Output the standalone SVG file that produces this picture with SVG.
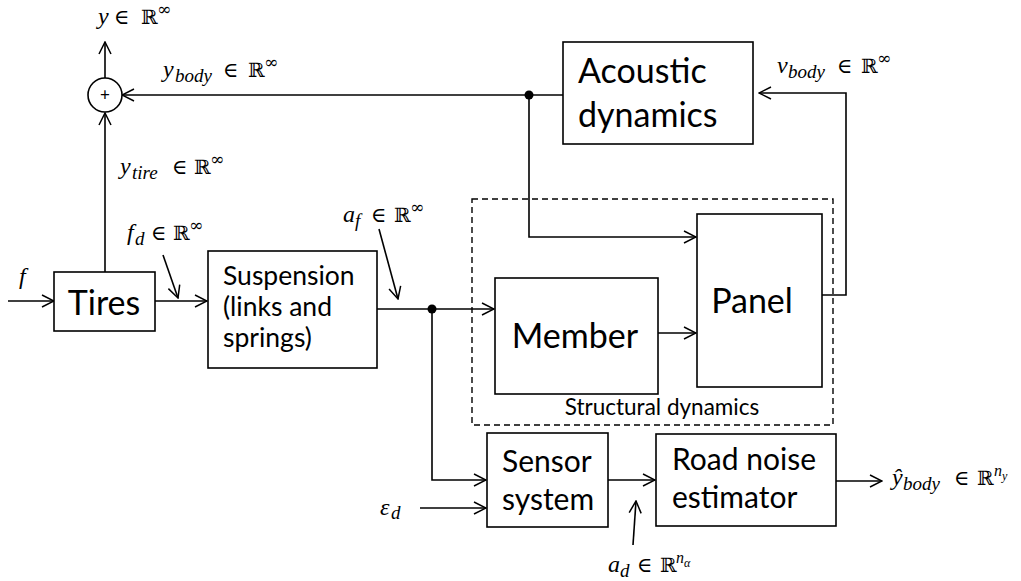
<svg xmlns="http://www.w3.org/2000/svg" width="1021" height="581" viewBox="0 0 1021 581">
<style>
.box{fill:#fff;stroke:#000;stroke-width:1.6}
.ln{fill:none;stroke:#000;stroke-width:1.6}
.ar{marker-end:url(#ah)}
.dash{fill:none;stroke:#000;stroke-width:1.4;stroke-dasharray:6 4}
.t{font-family:Lato,"Open Sans","Liberation Sans",sans-serif;fill:#000}
.t36{font-size:34px}
.t32{font-size:30px}
.t28{font-size:26.5px}
.t24{font-size:22.5px}
.m{font-family:"Liberation Serif","DejaVu Serif",serif;font-size:24px;fill:#000}
.i{font-style:italic}
.s{font-size:19px;font-style:italic}
.E{font-family:"DejaVu Serif",serif;font-size:21px}
.R{font-family:"DejaVu Serif",serif;font-size:20px}
.sup{font-family:"DejaVu Serif",serif;font-size:17px}
</style>
<defs>
<marker id="ah" viewBox="0 0 14 14" refX="13" refY="7" markerWidth="14" markerHeight="14" markerUnits="userSpaceOnUse" orient="auto">
<path d="M1,1 L13,7 L1,13" fill="none" stroke="#000" stroke-width="1.5"/>
</marker>
</defs>
<rect width="1021" height="581" fill="#fff"/>

<g id="connectors">
<line class="ln ar" x1="8" y1="301" x2="54" y2="301"/>
<line class="ln ar" x1="155" y1="301" x2="207" y2="301"/>
<line class="ln ar" x1="105" y1="272" x2="105" y2="113"/>
<line class="ln ar" x1="105" y1="78" x2="105" y2="42"/>
<line class="ln ar" x1="563" y1="95" x2="122" y2="95"/>
<polyline class="ln ar" points="529,95 529,237 696,237"/>
<line class="ln ar" x1="658" y1="333" x2="696" y2="333"/>
<polyline class="ln ar" points="822,295 846,295 846,93 759,93"/>
<line class="ln ar" x1="377" y1="309" x2="494" y2="309"/>
<polyline class="ln ar" points="432,309 432,480 486,480"/>
<line class="ln ar" x1="420" y1="508" x2="486" y2="508"/>
<line class="ln ar" x1="608" y1="480" x2="655" y2="480"/>
<line class="ln ar" x1="836" y1="481" x2="882" y2="481"/>
<line class="ln ar" x1="163" y1="255" x2="178" y2="298"/>
<line class="ln ar" x1="379" y1="229" x2="398" y2="299"/>
<line class="ln ar" x1="633" y1="545" x2="636" y2="501"/>
<circle cx="529" cy="95" r="4.5" fill="#000"/>
<circle cx="432" cy="309" r="4.5" fill="#000"/>
</g>

<g id="structural-dynamics">
<rect class="dash" x="472" y="199" width="361" height="226"/>
<text class="t t24" x="662" y="415" text-anchor="middle">Structural dynamics</text>
</g>

<g id="sum">
<circle cx="105" cy="95" r="17" fill="#fff" stroke="#000" stroke-width="1.6"/>
<text class="t" x="105" y="101" font-size="17" text-anchor="middle">+</text>
</g>

<g id="tires">
<rect class="box" x="54" y="272" width="101" height="59"/>
<text class="t t36" x="104" y="315" text-anchor="middle">Tires</text>
</g>

<g id="suspension">
<rect class="box" x="208" y="251" width="169" height="117"/>
<text class="t t28" x="223" y="285">Suspension</text>
<text class="t t28" x="223" y="316">(links and</text>
<text class="t t28" x="223" y="347">springs)</text>
</g>

<g id="acoustic">
<rect class="box" x="563" y="42" width="190" height="102"/>
<text class="t t36" x="578" y="83">Acoustic</text>
<text class="t t36" x="578" y="127">dynamics</text>
</g>

<g id="member">
<rect class="box" x="495" y="278" width="163" height="116"/>
<text class="t t36" x="575" y="348" text-anchor="middle">Member</text>
</g>

<g id="panel">
<rect class="box" x="697" y="214" width="125" height="173"/>
<text class="t t36" x="752" y="313" text-anchor="middle">Panel</text>
</g>

<g id="sensor">
<rect class="box" x="487" y="433" width="121" height="94"/>
<text class="t t32" x="502" y="472">Sensor</text>
<text class="t t32" x="502" y="510">system</text>
</g>

<g id="estimator">
<rect class="box" x="656" y="434" width="180" height="92"/>
<text class="t t32" x="672" y="470">Road noise</text>
<text class="t t32" x="672" y="508">estimator</text>
</g>

<g id="labels">
<text class="m" y="24"><tspan class="i" x="98">y</tspan><tspan class="E" x="114">∈</tspan><tspan class="R" x="141">ℝ</tspan><tspan class="sup" x="157" dy="-9">∞</tspan></text>
<text class="m" y="77"><tspan class="i" x="163">y</tspan><tspan class="s" x="175" dy="5">body</tspan><tspan class="E" x="223" dy="-5">∈</tspan><tspan class="R" x="248">ℝ</tspan><tspan class="sup" x="264" dy="-9">∞</tspan></text>
<text class="m" y="174"><tspan class="i" x="120">y</tspan><tspan class="s" x="132" dy="5">tire</tspan><tspan class="E" x="172" dy="-5">∈</tspan><tspan class="R" x="194">ℝ</tspan><tspan class="sup" x="210" dy="-9">∞</tspan></text>
<text class="m" y="240"><tspan class="i" x="127">f</tspan><tspan class="s" x="135" dy="5">d</tspan><tspan class="E" x="151" dy="-5">∈</tspan><tspan class="R" x="173">ℝ</tspan><tspan class="sup" x="189" dy="-9">∞</tspan></text>
<text class="m i" x="19" y="284">f</text>
<text class="m" y="222"><tspan class="i" x="343">a</tspan><tspan class="s" x="355" dy="5">f</tspan><tspan class="E" x="371" dy="-5">∈</tspan><tspan class="R" x="394">ℝ</tspan><tspan class="sup" x="410" dy="-9">∞</tspan></text>
<text class="m" y="73"><tspan class="i" x="777">v</tspan><tspan class="s" x="788" dy="5">body</tspan><tspan class="E" x="837" dy="-5">∈</tspan><tspan class="R" x="861">ℝ</tspan><tspan class="sup" x="877" dy="-9">∞</tspan></text>
<text class="m" y="515"><tspan class="i" x="380">ε</tspan><tspan class="s" x="391" dy="4">d</tspan></text>
<text class="m" y="572"><tspan class="i" x="608">a</tspan><tspan class="s" x="620" dy="5">d</tspan><tspan class="E" x="637" dy="-5">∈</tspan><tspan class="R" x="660">ℝ</tspan><tspan class="i" font-size="16" x="676" dy="-9">n</tspan><tspan font-size="12" font-style="italic" dy="4">α</tspan></text>
<text class="m" y="485"><tspan class="i" x="892">ŷ</tspan><tspan class="s" x="903" dy="5">body</tspan><tspan class="E" x="954" dy="-5">∈</tspan><tspan class="R" x="977">ℝ</tspan><tspan class="i" font-size="16" x="994" dy="-9">n</tspan><tspan font-size="12" font-style="italic" dy="4">y</tspan></text>
</g>
</svg>
